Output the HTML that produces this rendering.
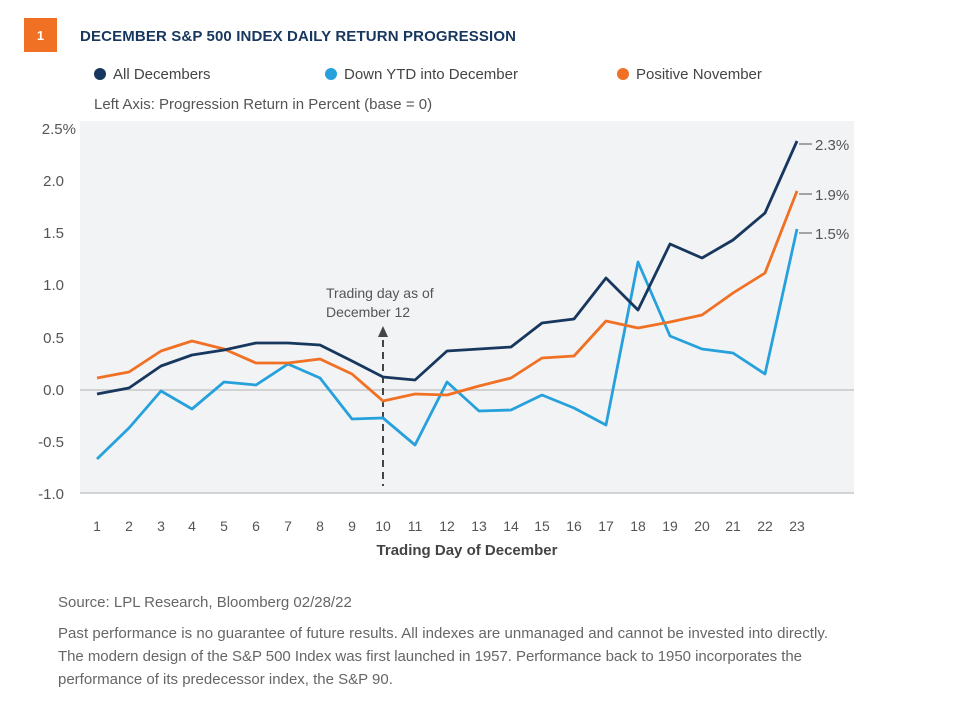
<!DOCTYPE html>
<html><head><meta charset="utf-8"><style>
body{margin:0;background:#fff;width:976px;height:711px;overflow:hidden;font-family:"Liberation Sans",sans-serif;}
</style></head><body>
<svg width="976" height="711" xmlns="http://www.w3.org/2000/svg" font-family="Liberation Sans, sans-serif">
<rect x="24" y="18" width="33" height="34" fill="#f07124"/>
<text x="40.5" y="40" fill="#fff" font-size="13" font-weight="bold" text-anchor="middle">1</text>
<text x="80" y="41" fill="#17375e" font-size="15" font-weight="bold" textLength="436">DECEMBER S&amp;P 500 INDEX DAILY RETURN PROGRESSION</text>
<circle cx="100" cy="74" r="6" fill="#17375e"/><text x="113" y="79" font-size="15" fill="#444">All Decembers</text>
<circle cx="331" cy="74" r="6" fill="#26a1dc"/><text x="344" y="79" font-size="15" fill="#444">Down YTD into December</text>
<circle cx="623" cy="74" r="6" fill="#f07124"/><text x="636" y="79" font-size="15" fill="#444">Positive November</text>
<text x="94" y="109" font-size="15" fill="#555">Left Axis: Progression Return in Percent (base = 0)</text>
<rect x="80" y="121" width="774" height="372" fill="#f2f3f5"/>
<line x1="80" y1="390" x2="854" y2="390" stroke="#c8c8c8" stroke-width="1.5"/>
<line x1="80" y1="493" x2="854" y2="493" stroke="#c8c8c8" stroke-width="1.5"/>
<g font-size="15" fill="#555" text-anchor="end">
<text x="76" y="134">2.5%</text><text x="64" y="186">2.0</text><text x="64" y="238">1.5</text><text x="64" y="290">1.0</text><text x="64" y="343">0.5</text><text x="64" y="395">0.0</text><text x="64" y="447">-0.5</text><text x="64" y="499">-1.0</text>
</g>
<g font-size="14" fill="#555" text-anchor="middle">
<text x="97" y="531">1</text><text x="129" y="531">2</text><text x="161" y="531">3</text><text x="192" y="531">4</text><text x="224" y="531">5</text><text x="256" y="531">6</text><text x="288" y="531">7</text><text x="320" y="531">8</text><text x="352" y="531">9</text><text x="383" y="531">10</text><text x="415" y="531">11</text><text x="447" y="531">12</text><text x="479" y="531">13</text><text x="511" y="531">14</text><text x="542" y="531">15</text><text x="574" y="531">16</text><text x="606" y="531">17</text><text x="638" y="531">18</text><text x="670" y="531">19</text><text x="702" y="531">20</text><text x="733" y="531">21</text><text x="765" y="531">22</text><text x="797" y="531">23</text>
</g>
<text x="467" y="555" font-size="15" font-weight="bold" fill="#444" text-anchor="middle">Trading Day of December</text>
<line x1="383" y1="340" x2="383" y2="486" stroke="#444" stroke-width="2" stroke-dasharray="7,5"/>
<polygon points="383,326 378,337 388,337" fill="#444"/>
<text x="326" y="298" font-size="14" fill="#555">Trading day as of</text>
<text x="326" y="317" font-size="14" fill="#555">December 12</text>
<g fill="none" stroke-width="2.8" stroke-linejoin="round">
<polyline stroke="#26a1dc" points="97,459 129,428 161,391 192,409 224,382 256,385 288,364 320,378 352,419 383,418 415,445 447,382 479,411 511,410 542,395 574,408 606,425 638,262 670,336 702,349 733,353 765,374 797,229"/>
<polyline stroke="#f07124" points="97,378 129,372 161,351 192,341 224,349 256,363 288,363 320,359 352,374 383,401 415,394 447,395 479,386 511,378 542,358 574,356 606,321 638,328 670,322 702,315 733,293 765,273 797,191"/>
<polyline stroke="#17375e" points="97,394 129,388 161,366 192,355 224,350 256,343 288,343 320,345 352,361 383,377 415,380 447,351 479,349 511,347 542,323 574,319 606,278 638,310 670,244 702,258 733,240 765,213 797,141"/>
</g>
<g stroke="#888" stroke-width="1.5"><line x1="799" y1="144" x2="812" y2="144"/><line x1="799" y1="194" x2="812" y2="194"/><line x1="799" y1="233" x2="812" y2="233"/></g>
<g font-size="15" fill="#555"><text x="815" y="150">2.3%</text><text x="815" y="200">1.9%</text><text x="815" y="239">1.5%</text></g>
<text x="58" y="607" font-size="15" fill="#666">Source: LPL Research, Bloomberg  02/28/22</text>
<g font-size="15" fill="#666">
<text x="58" y="638" textLength="770">Past performance is no guarantee of future results. All indexes are unmanaged and cannot be invested into directly.</text>
<text x="58" y="661" textLength="744">The modern design of the S&amp;P 500 Index was first launched in 1957. Performance back to 1950 incorporates the</text>
<text x="58" y="684">performance of its predecessor index, the S&amp;P 90.</text>
</g>
</svg>
</body></html>
